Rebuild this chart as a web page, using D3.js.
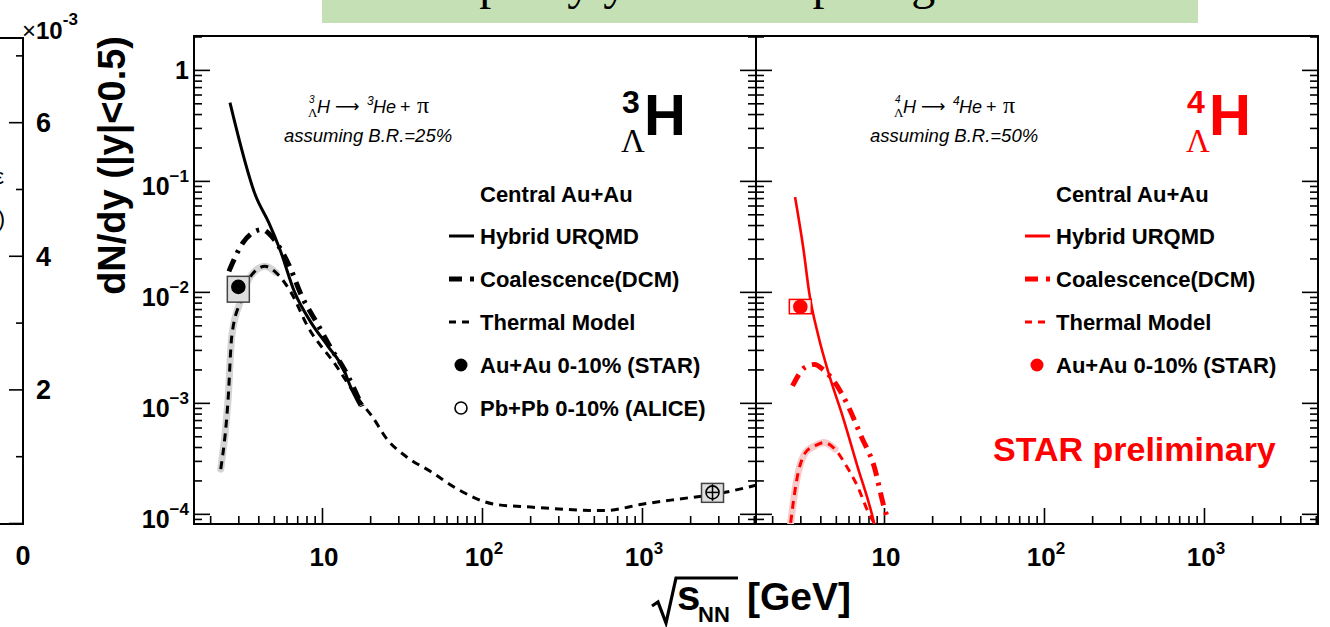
<!DOCTYPE html>
<html>
<head>
<meta charset="utf-8">
<script src="https://cdn.jsdelivr.net/npm/d3@7"></script>
<style>
  body { margin: 0; background: #fff; }
  svg { display: block; }
  text { font-family: "Liberation Sans", Arial, sans-serif; }
</style>
</head>
<body>
<svg id="chart" width="1330" height="627"></svg>
<script>
// ---------------- data ----------------
// sqrt(s_NN) [GeV] vs dN/dy (|y|<0.5)
const hybridH3 = [[2.66,0.508],[3.86,0.0726],[4.65,0.0421],[5.46,0.0241],[6.75,0.00988],[8.53,0.00531],[10.9,0.00323],[13.8,0.00194],[15.0,0.00142],[17.3,0.00094]];
const coalH3 = [[2.62,0.0153],[3.21,0.0278],[3.70,0.0342],[4.22,0.0364],[4.66,0.0335],[5.62,0.0231],[6.40,0.0159],[7.29,0.0099],[9.53,0.00492],[11.5,0.00303],[13.8,0.0020],[17.8,0.00093]];
const thermalH3 = [[2.33,2.53e-4],[2.59,1.08e-3],[2.73,4.0e-3],[3.12,8.5e-3],[3.47,0.0129],[4.40,0.0170],[5.16,0.0149],[6.40,0.0099],[8.13,0.0049],[12.1,0.00222],[17.5,0.00101],[20.5,7.6e-4],[25.5,4.7e-4],[33.4,3.3e-4],[48.4,2.38e-4],[70.3,1.67e-4],[120,1.22e-4],[202,1.15e-4],[587,1.07e-4],[1000,1.22e-4],[1703,1.36e-4],[2917,1.51e-4],[5160,1.81e-4]];
const starH3 = [{x:3.0, y:0.0111, sysLo:0.00808, sysHi:0.0138}];
const aliceH3 = [{x:2760, y:1.56e-4, statLo:1.31e-4, statHi:1.85e-4, sysLo:1.27e-4, sysHi:1.88e-4}];

const hybridH4 = [[2.78,0.0717],[3.14,0.0241],[3.41,0.0098],[3.89,0.0040],[4.56,0.00175],[5.51,7.6e-4],[6.81,2.71e-4],[8.66,8.3e-5],[9.2,5.5e-5]];
const coalH4 = [[2.68,1.42e-3],[3.21,2.09e-3],[3.69,2.22e-3],[4.16,2.0e-3],[4.94,1.52e-3],[5.96,9.4e-4],[7.18,5.04e-4],[8.66,2.7e-4],[10.1,1.10e-4],[10.7,8.6e-5]];
const thermalH4 = [[2.61,8.3e-5],[2.83,1.92e-4],[3.23,3.57e-4],[3.69,4.09e-4],[4.22,4.39e-4],[4.94,3.83e-4],[5.81,2.71e-4],[6.81,1.79e-4],[7.99,1.03e-4],[8.66,8.3e-5]];
const starH4 = [{x:3.0, y:7.34e-3, sysLo:6.35e-3, sysHi:8.55e-3}];

const xDomain = [1.585, 5160];
const yDomain = [8.1e-5, 2.02];
const yMajor = [1e-4, 1e-3, 1e-2, 1e-1, 1];
const yLabelExp = ["−4", "−3", "−2", "−1", ""];
const xMajor = [10, 100, 1000];
const xLabelExp = ["", "2", "3"];
const stubMajor = [0, 2, 4, 6];
const stubMinor = [1, 3, 5, 7];
const legendLeft = ["Hybrid URQMD", "Coalescence(DCM)", "Thermal Model", "Au+Au 0-10% (STAR)", "Pb+Pb 0-10% (ALICE)"];
const legendRight = ["Hybrid URQMD", "Coalescence(DCM)", "Thermal Model", "Au+Au 0-10% (STAR)"];

// ---------------- layout ----------------
const svg = d3.select("#chart");
const frameTop = 36, frameBottom = 524;
const panels = [
  {x0: 194, x1: 756},
  {x0: 756, x1: 1318}
];
const y = d3.scaleLog().domain(yDomain).range([frameBottom, frameTop]);
panels.forEach(p => { p.x = d3.scaleLog().domain(xDomain).range([p.x0, p.x1]); });

// all minor/major tick values inside the domains
const yTicks = [];
for (let e = -5; e <= 0; e++) for (let m = 1; m <= 9; m++) {
  const v = m * Math.pow(10, e);
  if (v >= yDomain[0] && v <= yDomain[1]) yTicks.push(v);
}
const xTicks = [];
for (let e = 0; e <= 3; e++) for (let m = 1; m <= 9; m++) {
  const v = m * Math.pow(10, e);
  if (v >= xDomain[0] && v <= xDomain[1]) xTicks.push(v);
}
const isMajor = v => Math.abs(Math.log10(v) - Math.round(Math.log10(v))) < 1e-9;

// banner at the top
svg.append("rect").attr("x", 322).attr("y", 0).attr("width", 876).attr("height", 23).attr("fill", "#c5e0b4");
svg.append("text").attr("x", 346).attr("y", -1)
  .style("font-family", "'Liberation Serif', 'Times New Roman', serif").style("font-size", "48px")
  .attr("fill", "#000").text("Mid-rapidity yields comparing with models");

// ---------------- axes ----------------
function drawAxes(p) {
  const g = svg.append("g");
  const minors = yTicks.filter(v => !isMajor(v));
  const majors = yTicks.filter(isMajor);
  const xMin = xTicks.filter(v => !isMajor(v));
  const xMaj = xTicks.filter(isMajor);
  const axes = [
    [d3.axisLeft(y).tickValues(minors).tickSize(-8), `translate(${p.x0},0)`],
    [d3.axisLeft(y).tickValues(majors).tickSize(-16), `translate(${p.x0},0)`],
    [d3.axisRight(y).tickValues(minors).tickSize(-8), `translate(${p.x1},0)`],
    [d3.axisRight(y).tickValues(majors).tickSize(-16), `translate(${p.x1},0)`],
    [d3.axisBottom(p.x).tickValues(xMin).tickSize(-8), `translate(0,${frameBottom})`],
    [d3.axisBottom(p.x).tickValues(xMaj).tickSize(-16), `translate(0,${frameBottom})`]
  ];
  axes.forEach(([ax, tr]) => {
    const a = g.append("g").attr("transform", tr).call(ax.tickFormat("").tickSizeOuter(0));
    a.select(".domain").remove();
    a.selectAll("line").attr("stroke", "#000").attr("stroke-width", 1.6);
  });
  // x tick labels
  xMajor.forEach((v, i) => {
    const t = g.append("text").attr("x", p.x(v) + 2).attr("y", 566)
      .attr("text-anchor", "middle").style("font-size", "26px").style("font-weight", "bold");
    t.append("tspan").text("10");
    if (xLabelExp[i]) t.append("tspan").attr("dy", -12).style("font-size", "17px").text(xLabelExp[i]);
  });
}
panels.forEach(drawAxes);

// y tick labels (left panel only)
yMajor.forEach((v, i) => {
  const yy = y(v);
  const t = svg.append("text").attr("x", 189).attr("text-anchor", "end")
    .style("font-size", "25px").style("font-weight", "bold");
  if (yLabelExp[i] === "") {
    t.attr("y", yy + 9).text("1");
  } else {
    t.attr("y", yy + 14);
    t.append("tspan").text("10");
    t.append("tspan").attr("dy", -13).style("font-size", "17px").text(yLabelExp[i]);
  }
});

// frames
panels.forEach(p => {
  svg.append("rect").attr("x", p.x0).attr("y", frameTop).attr("width", p.x1 - p.x0).attr("height", frameBottom - frameTop)
    .attr("fill", "none").attr("stroke", "#000").attr("stroke-width", 2);
});

// y title
svg.append("text").attr("transform", `translate(125,${frameTop}) rotate(-90)`).attr("text-anchor", "end")
  .style("font-size", "38px").style("font-weight", "bold").text("dN/dy (|y|<0.5)");

// x title: sqrt(s_NN) [GeV]
const xt = svg.append("g");
xt.append("path").attr("d", "M652,606 L658,602 L666,623 L676,578 L738,578")
  .attr("fill", "none").attr("stroke", "#000").attr("stroke-width", 3.2);
xt.append("text").attr("x", 677).attr("y", 610).style("font-size", "42px").style("font-weight", "bold").text("s");
xt.append("text").attr("x", 698).attr("y", 622).style("font-size", "22px").style("font-weight", "bold").text("NN");
xt.append("text").attr("x", 747).attr("y", 610).style("font-size", "39px").style("font-weight", "bold").text("[GeV]");

// ---------------- partial panel on the far left ----------------
const ys = d3.scaleLinear().domain([0, 7.26]).range([frameBottom - 1, 38]);
const stub = svg.append("g");
[[stubMinor, 7], [stubMajor, 14]].forEach(([vals, len]) => {
  const a = stub.append("g").attr("transform", "translate(23,0)")
    .call(d3.axisLeft(ys).tickValues(vals).tickSize(len).tickFormat("").tickSizeOuter(0));
  a.select(".domain").remove();
  a.selectAll("line").attr("stroke", "#000").attr("stroke-width", 1.6);
});
stub.append("path").attr("d", `M0,38 H23 V${frameBottom} H0`).attr("fill", "none").attr("stroke", "#000").attr("stroke-width", 2);
stubMajor.filter(v => v > 0).forEach(v => {
  stub.append("text").attr("x", 36).attr("y", ys(v) + 10).style("font-size", "27px").style("font-weight", "bold").text(v);
});
stub.append("text").attr("x", 23).attr("y", 565).attr("text-anchor", "middle")
  .style("font-size", "27px").style("font-weight", "bold").text("0");
const mult = stub.append("text").attr("x", 22).attr("y", 39).style("font-size", "24px").style("font-weight", "bold");
mult.append("tspan").style("font-weight", "normal").text("×");
mult.append("tspan").text("10");
mult.append("tspan").attr("dy", -14).style("font-size", "17px").text("-3");
// ends of the neighbouring axis title, cut by the page edge
stub.append("text").attr("x", 4).attr("y", 184).attr("text-anchor", "end").style("font-size", "22px").text("ε");
stub.append("text").attr("x", 5).attr("y", 226).attr("text-anchor", "end").style("font-size", "22px").text(")");

// ---------------- curves ----------------
panels.forEach((p, i) => {
  svg.append("clipPath").attr("id", "clip" + i).append("rect")
    .attr("x", p.x0).attr("y", frameTop).attr("width", p.x1 - p.x0).attr("height", frameBottom - frameTop);
  p.g = svg.append("g").attr("clip-path", `url(#clip${i})`);
  p.line = d3.line().x(d => p.x(d[0])).y(d => y(d[1])).curve(d3.curveMonotoneX);
});

function drawModels(p, hybrid, coal, thermal, col, bandCol, hw) {
  // shaded band around the low-energy part of the thermal curve
  p.g.append("path").datum(thermal.filter(d => d[0] <= 5.2)).attr("d", p.line)
    .attr("fill", "none").attr("stroke", bandCol).attr("stroke-width", 7).attr("stroke-linecap", "round");
  p.g.append("path").datum(thermal).attr("d", p.line)
    .attr("fill", "none").attr("stroke", col).attr("stroke-width", 3).attr("stroke-dasharray", "8,6");
  p.g.append("path").datum(coal).attr("d", p.line)
    .attr("fill", "none").attr("stroke", col).attr("stroke-width", 5).attr("stroke-dasharray", "13,7,3,7");
  p.g.append("path").datum(hybrid).attr("d", p.line)
    .attr("fill", "none").attr("stroke", col).attr("stroke-width", hw);
}
drawModels(panels[0], hybridH3, coalH3, thermalH3, "#000", "#d4d4d4", 3);
drawModels(panels[1], hybridH4, coalH4, thermalH4, "#ff0000", "#f8caca", 2.6);

// measured points with systematic boxes
const boxHalf = 11;
function drawPoints(p, pts, fill, stroke, boxFill, boxStroke) {
  pts.forEach(d => {
    const cx = p.x(d.x), cy = y(d.y);
    p.g.append("rect").attr("x", cx - boxHalf).attr("y", y(d.sysHi)).attr("width", 2 * boxHalf)
      .attr("height", y(d.sysLo) - y(d.sysHi)).attr("fill", boxFill).attr("stroke", boxStroke).attr("stroke-width", 1.5);
    if (d.statLo !== undefined) {
      p.g.append("line").attr("x1", cx).attr("x2", cx).attr("y1", y(d.statHi)).attr("y2", y(d.statLo))
        .attr("stroke", stroke).attr("stroke-width", 1.5);
      p.g.append("line").attr("x1", cx - 6).attr("x2", cx + 6).attr("y1", cy).attr("y2", cy)
        .attr("stroke", stroke).attr("stroke-width", 1.5);
    }
    p.g.append("circle").attr("cx", cx).attr("cy", cy).attr("r", 6.5)
      .attr("fill", fill).attr("stroke", stroke).attr("stroke-width", 1.6);
  });
}
drawPoints(panels[0], starH3, "#000", "#000", "#dedede", "#444");
drawPoints(panels[0], aliceH3, "none", "#000", "#dedede", "#444");
drawPoints(panels[1], starH4, "#ff0000", "#ff0000", "#fff0f0", "#ff0000");

// ---------------- labels and legends ----------------
function reaction(x0, yb, mass, br) {
  const g = svg.append("g").style("font-style", "italic");
  g.append("text").attr("x", x0 + 3).attr("y", yb - 10).style("font-size", "10px").text(mass);
  g.append("text").attr("x", x0 + 2).attr("y", yb + 4).style("font-size", "13px").style("font-style", "normal")
    .style("font-family", "'Liberation Serif', serif").text("Λ");
  g.append("text").attr("x", x0 + 11).attr("y", yb).style("font-size", "18px").text("H");
  g.append("text").attr("x", x0 + 29).attr("y", yb - 1).style("font-style", "normal")
    .style("font-family", "'DejaVu Sans', sans-serif").style("font-size", "17px").text("⟶");
  g.append("text").attr("x", x0 + 61).attr("y", yb - 8).style("font-size", "12px").text(mass);
  g.append("text").attr("x", x0 + 67).attr("y", yb).style("font-size", "18px").text("He");
  g.append("text").attr("x", x0 + 94).attr("y", yb).style("font-size", "18px").style("font-style", "normal").text("+");
  g.append("text").attr("x", x0 + 111).attr("y", yb).style("font-style", "normal")
    .style("font-family", "'Liberation Serif', serif").style("font-size", "24px").text("π");
  g.append("text").attr("x", x0 - 22).attr("y", yb + 29).style("font-size", "18.5px").text(`assuming B.R.=${br}%`);
}
reaction(306, 113, "3", 25);
reaction(892, 113, "4", 50);

function bigLabel(x0, mass, col) {
  const g = svg.append("g").attr("fill", col);
  g.append("text").attr("x", x0).attr("y", 113).style("font-size", "32px").style("font-weight", "bold").text(mass);
  g.append("text").attr("x", x0 + 22).attr("y", 135).style("font-size", "58px").style("font-weight", "bold").text("H");
  g.append("text").attr("x", x0 - 1).attr("y", 152).style("font-size", "33px")
    .style("font-family", "'Liberation Serif', serif").text("Λ");
}
bigLabel(622, "3", "#000");
bigLabel(1187, "4", "#ff0000");

function legend(x0, entries, col, withOpen) {
  const g = svg.append("g");
  g.append("text").attr("x", x0 + 31).attr("y", 202).style("font-size", "22px").style("font-weight", "bold").text("Central Au+Au");
  const rowY = i => 236 + i * 43;
  entries.forEach((name, i) => {
    g.append("text").attr("x", x0 + 31).attr("y", rowY(i) + 8).style("font-size", "22px").style("font-weight", "bold").text(name);
  });
  const l = (i, w, dash) => g.append("line").attr("x1", x0).attr("x2", x0 + 25).attr("y1", rowY(i)).attr("y2", rowY(i))
    .attr("stroke", col).attr("stroke-width", w).attr("stroke-dasharray", dash);
  l(0, 3, null);
  l(1, 5, "13,8,4,20");
  l(2, 3, "7,6");
  g.append("circle").attr("cx", x0 + 12).attr("cy", rowY(3)).attr("r", 6.5).attr("fill", col);
  if (withOpen) g.append("circle").attr("cx", x0 + 12).attr("cy", rowY(4)).attr("r", 6)
    .attr("fill", "none").attr("stroke", col).attr("stroke-width", 1.6);
}
legend(449, legendLeft, "#000", true);
legend(1025, legendRight, "#ff0000", false);

svg.append("text").attr("x", 993).attr("y", 461).attr("fill", "#ff0000")
  .style("font-size", "34px").style("font-weight", "bold").text("STAR preliminary");
</script>
</body>
</html>
